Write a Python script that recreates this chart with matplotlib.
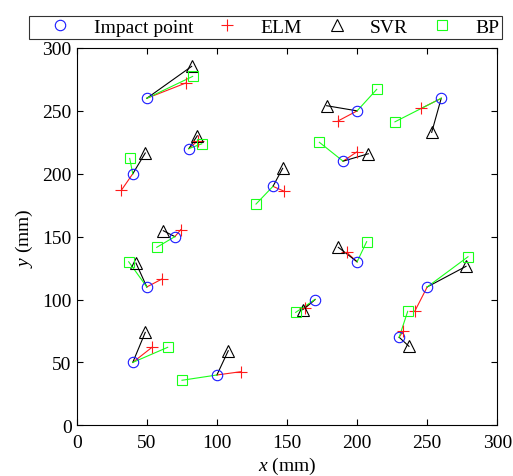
import matplotlib
matplotlib.use("Agg")
import matplotlib.pyplot as plt
from matplotlib.lines import Line2D

impact_x = [50, 80, 40, 140, 200, 190, 260, 70, 50, 40, 100, 200, 170, 250, 230]
impact_y = [260, 220, 200, 190, 250, 210, 260, 150, 110, 50, 40, 130, 100, 110, 70]
elm_x = [77.7, 86.3, 31.8, 148.1, 186.6, 199.7, 245.8, 74.2, 60.8, 53.7, 117.0, 192.6, 162.8, 241.1, 233.0]
elm_y = [272.1, 226.2, 186.8, 186.0, 242.1, 217.3, 252.0, 155.5, 116.3, 62.0, 42.6, 137.5, 93.0, 90.6, 75.2]
svr_x = [82.0, 86.0, 48.9, 146.9, 178.3, 208.0, 253.2, 61.8, 42.3, 48.9, 108.1, 186.6, 161.2, 277.7, 237.0]
svr_y = [285.4, 230.2, 216.5, 204.3, 254.1, 215.9, 232.9, 154.7, 129.0, 73.9, 59.3, 141.5, 91.9, 126.4, 62.8]
bp_x = [82.7, 89.2, 37.8, 127.9, 214.0, 173.1, 227.0, 57.1, 37.1, 64.9, 75.1, 206.8, 156.2, 279.1, 236.1]
bp_y = [277.4, 223.8, 212.2, 175.9, 267.1, 225.0, 241.3, 141.5, 130.0, 62.0, 35.8, 146.0, 89.8, 134.0, 90.6]

legend_labels = ["Impact point", "ELM", "SVR", "BP"]
x_ticks = [0, 50, 100, 150, 200, 250, 300]
y_ticks = [0, 50, 100, 150, 200, 250, 300]

plt.rcParams['font.family'] = ['Liberation Serif', 'DejaVu Serif']
plt.rcParams['mathtext.fontset'] = 'custom'
plt.rcParams['mathtext.rm'] = 'Liberation Serif'
plt.rcParams['mathtext.it'] = 'Liberation Serif:italic'

C_BLUE = '#1a1aff'
C_RED = '#ff1a1a'
C_BLACK = '#000000'
C_GREEN = '#1aff1a'
FS = 14

fig = plt.figure(figsize=(5.13, 4.77), dpi=100)
ax = fig.add_axes([0.1495, 0.1063, 0.9694 - 0.1495, 0.8973 - 0.1063])

lw = 0.8
for i in range(len(impact_x)):
    ax.plot([impact_x[i], elm_x[i]], [impact_y[i], elm_y[i]], color=C_RED, lw=lw, zorder=1)
    ax.plot([impact_x[i], svr_x[i]], [impact_y[i], svr_y[i]], color=C_BLACK, lw=lw, zorder=1)
    ax.plot([impact_x[i], bp_x[i]], [impact_y[i], bp_y[i]], color=C_GREEN, lw=lw, zorder=1)

mew = 0.8
ax.plot(impact_x, impact_y, 'o', ms=7.5, mfc='none', mec=C_BLUE, mew=mew, zorder=3)
ax.plot(elm_x, elm_y, '+', ms=8, mec=C_RED, mew=mew, zorder=3)
ax.plot(svr_x, svr_y, '^', ms=8.5, mfc='none', mec=C_BLACK, mew=mew, zorder=3)
ax.plot(bp_x, bp_y, 's', ms=6.5, mfc='none', mec=C_GREEN, mew=mew, zorder=3)

ax.set_xlim(0, 300)
ax.set_ylim(0, 300)
ax.set_xticks(x_ticks)
ax.set_yticks(y_ticks)
ax.tick_params(direction='in', length=4, width=0.8, top=True, right=True, labelsize=FS)
ax.tick_params(axis='x', pad=6)
ax.tick_params(axis='y', pad=3.6)
for s in ax.spines.values():
    s.set_linewidth(0.8)

ax.set_xlabel('$x$ (mm)', fontsize=FS, labelpad=3)
ax.set_ylabel('$y$ (mm)', fontsize=FS, labelpad=5)

handles = [
    Line2D([], [], ls='none', marker='o', ms=7.5, mfc='none', mec=C_BLUE, mew=mew),
    Line2D([], [], ls='none', marker='+', ms=8, mec=C_RED, mew=mew),
    Line2D([], [], ls='none', marker='^', ms=8.5, mfc='none', mec=C_BLACK, mew=mew),
    Line2D([], [], ls='none', marker='s', ms=6.5, mfc='none', mec=C_GREEN, mew=mew),
]
leg = fig.legend(handles, legend_labels, loc='lower left',
                 bbox_to_anchor=(29.3 / 513, 1 - 40 / 477, 473 / 513, 27 / 477), mode='expand',
                 ncol=4, fontsize=FS, frameon=True, fancybox=False,
                 edgecolor='k', borderaxespad=0, borderpad=0.15,
                 handlelength=2.9, handletextpad=0.26, columnspacing=0.5)
leg.get_frame().set_linewidth(0.8)

fig.savefig('out.png', dpi=100)
